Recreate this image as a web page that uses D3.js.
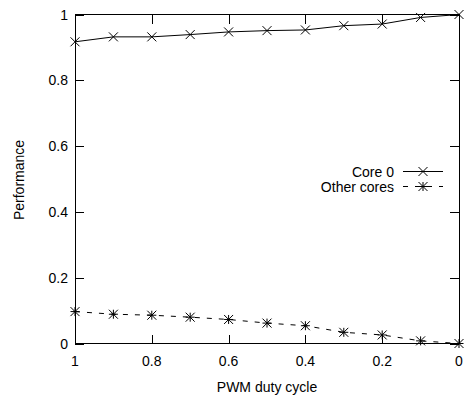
<!DOCTYPE html>
<html><head><meta charset="utf-8">
<script src="https://cdn.jsdelivr.net/npm/d3@7"></script>
<style>body{margin:0;background:#fff}svg text{font-family:"Liberation Sans",Arial,sans-serif;font-size:14px;fill:#000}</style>
</head><body><svg id="c" width="466" height="398"></svg>
<script>
const dutyCycle = [1, 0.9, 0.8, 0.7, 0.6, 0.5, 0.4, 0.3, 0.2, 0.1, 0];
const core0 = [0.917, 0.932, 0.932, 0.939, 0.947, 0.951, 0.953, 0.966, 0.971, 0.991, 1.0];
const otherCores = [0.097, 0.089, 0.086, 0.080, 0.073, 0.062, 0.054, 0.034, 0.026, 0.008, 0.0];
const xTicks = [1, 0.8, 0.6, 0.4, 0.2, 0];
const yTicks = [0, 0.2, 0.4, 0.6, 0.8, 1];
const seriesNames = ["Core 0", "Other cores"];

const svg = d3.select("#c");
const L = 75, R = 459, T = 14.5, B = 343.5;
const x = d3.scaleLinear().domain([1, 0]).range([L, R]);
const y = d3.scaleLinear().domain([0, 1]).range([B, T]);
const fmt = d => String(d);
const tl = 9;
const dash = "5,7";

// ticks (inward, mirrored)
const g = svg.append("g").attr("stroke", "#000").attr("stroke-width", 1).attr("shape-rendering", "crispEdges");
xTicks.forEach(t => {
  const px = Math.round(x(t)) + 0.5;
  g.append("line").attr("x1", px).attr("x2", px).attr("y1", B).attr("y2", B - tl);
  g.append("line").attr("x1", px).attr("x2", px).attr("y1", T).attr("y2", T + tl);
});
yTicks.forEach(t => {
  const py = Math.round(y(t)) + 0.5;
  g.append("line").attr("x1", L).attr("x2", L + tl).attr("y1", py).attr("y2", py);
  g.append("line").attr("x1", R).attr("x2", R - tl).attr("y1", py).attr("y2", py);
});
svg.selectAll(".xt").data(xTicks).enter().append("text")
  .attr("x", d => x(d)).attr("y", 366).attr("text-anchor", "middle").text(fmt);
svg.selectAll(".yt").data(yTicks).enter().append("text")
  .attr("x", 68).attr("y", d => y(d) + 5).attr("text-anchor", "end").text(fmt);

// lines
const line = d3.line().x(d => x(d[0])).y(d => y(d[1]));
const d0 = dutyCycle.map((v, i) => [v, core0[i]]);
const d1 = dutyCycle.map((v, i) => [v, otherCores[i]]);
svg.append("path").datum(d0).attr("d", line).attr("fill", "none").attr("stroke", "#000").attr("stroke-width", 1);
svg.append("path").datum(d1).attr("d", line).attr("fill", "none").attr("stroke", "#000").attr("stroke-width", 1).attr("stroke-dasharray", dash);

function cross(sel, cx, cy, s) {
  sel.append("path").attr("d", `M${cx-s},${cy-s}L${cx+s},${cy+s}M${cx-s},${cy+s}L${cx+s},${cy-s}`)
    .attr("stroke", "#000").attr("stroke-width", 1).attr("fill", "none");
}
function star(sel, cx, cy, s) {
  cross(sel, cx, cy, s);
  sel.append("path").attr("d", `M${cx-s},${cy}L${cx+s},${cy}M${cx},${cy-s}L${cx},${cy+s}`)
    .attr("stroke", "#000").attr("stroke-width", 1).attr("fill", "none");
}
d0.forEach(d => cross(svg, x(d[0]), y(d[1]), 4.5));
d1.forEach(d => star(svg, x(d[0]), y(d[1]), 4.5));

// border
svg.append("rect").attr("x", L + 0.5).attr("y", T).attr("width", R - L - 0.5).attr("height", B - T)
  .attr("fill", "none").attr("stroke", "#000").attr("stroke-width", 1).attr("shape-rendering", "crispEdges");

// legend
const ly = [171.5, 186.5];
svg.append("text").attr("x", 394).attr("y", ly[0] + 5).attr("text-anchor", "end").text(seriesNames[0]);
svg.append("text").attr("x", 394).attr("y", ly[1] + 5).attr("text-anchor", "end").text(seriesNames[1]);
svg.append("line").attr("x1", 403).attr("x2", 443).attr("y1", ly[0]).attr("y2", ly[0]).attr("stroke", "#000");
svg.append("line").attr("x1", 403).attr("x2", 443).attr("y1", ly[1]).attr("y2", ly[1]).attr("stroke", "#000").attr("stroke-dasharray", dash);
cross(svg, 423, ly[0], 4.5);
star(svg, 423, ly[1], 4.5);

// axis labels
svg.append("text").attr("x", 267).attr("y", 392).attr("text-anchor", "middle").text("PWM duty cycle");
svg.append("text").attr("transform", "translate(24,180) rotate(-90)").attr("text-anchor", "middle").text("Performance");
</script></body></html>
